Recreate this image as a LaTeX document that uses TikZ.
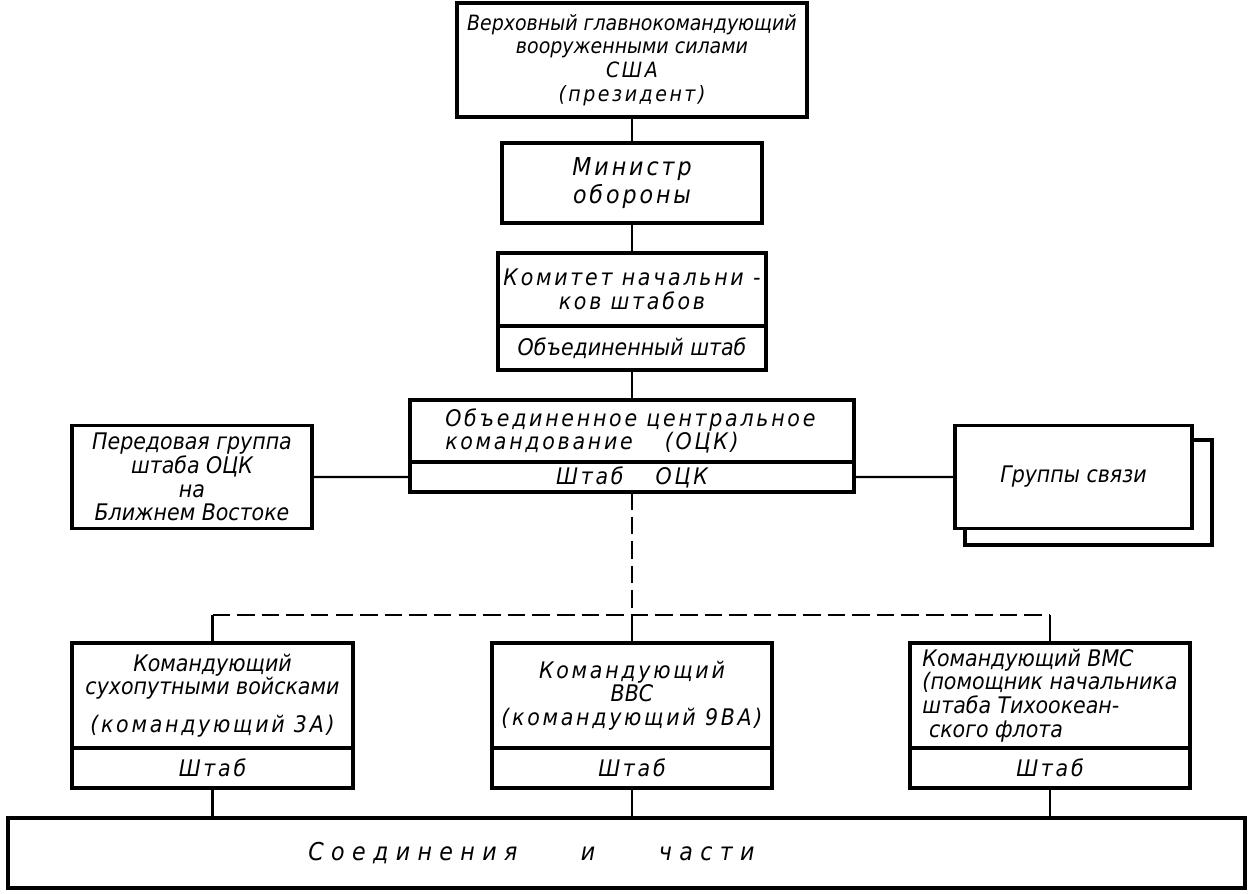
\documentclass[tikz,border=0pt]{standalone}
\usepackage{fontspec}
\setmainfont{DejaVu Sans Condensed}
\usetikzlibrary{positioning}
\newcommand\sprd[1]{{\addfontfeature{LetterSpace=12}#1}}

\begin{document}
\begin{tikzpicture}[thick]
    % Define block styles
    \tikzstyle{block} = [rectangle, draw, line width=1.8pt, outer sep=0pt, inner sep=1pt, align=center, font=\itshape\fontsize{13}{13.5}\selectfont]
    \tikzstyle{line} = [-, line width=1.3pt]
    \useasboundingbox (0,0) rectangle (25,-17.86);
    % Blocks and nodes
    \node [block, minimum width=7cm, minimum height=2.28cm, font=\itshape\fontsize{12}{13.5}\selectfont] (glav) at (12.64,-1.2)
        {Верховный главнокомандующий\\вооруженными силами\\\sprd{США}\\\sprd{(президент)}};
    \node [block, minimum width=5.2cm, minimum height=1.6cm, font=\itshape\fontsize{14}{15.5}\selectfont] (min) at (12.64,-3.66)
        {\sprd{Министр}\\\sprd{обороны}};
    \node [block, minimum width=5.36cm, minimum height=1.46cm] (kns) at (12.64,-5.79)
        {\sprd{Комитет начальни -}\\\sprd{ков штабов}};
    \node [block, minimum width=5.36cm, minimum height=0.88cm, below=0pt of kns] (knss) {Объединенный штаб};
    \node [block, minimum width=8.88cm, minimum height=1.24cm, align=left] (ock) at (12.64,-8.62)
        {\sprd{Объединенное центральное}\\\sprd{командование \quad (ОЦК)}\hspace*{1.6cm}};
    \node [block, minimum width=8.88cm, minimum height=0.6cm, below=0pt of ock] (ocks) {\sprd{Штаб \quad ОЦК}};
    \node [block, minimum width=4.8cm, minimum height=2.06cm] (pgr) at (3.84,-9.54)
        {Передовая группа\\штаба ОЦК\\на\\Ближнем Востоке};
    \node [block, minimum width=4.94cm, minimum height=2.1cm] (svyazb) at (21.77,-9.85) {};
    \node [block, fill=white, minimum width=4.74cm, minimum height=2.06cm] (svyaz) at (21.47,-9.54) {Группы связи};
    \node [block, minimum width=5.62cm, minimum height=2.1cm] (sv) at (4.25,-13.91)
        {Командующий\\сухопутными войсками\\[8pt]\sprd{(командующий 3А)}};
    \node [block, minimum width=5.62cm, minimum height=0.8cm, below=0pt of sv] (svs) {\sprd{Штаб}};
    \node [block, minimum width=5.6cm, minimum height=2.1cm] (vvs) at (12.64,-13.91)
        {\sprd{Командующий}\\ВВС\\\sprd{(командующий 9ВА)}};
    \node [block, minimum width=5.6cm, minimum height=0.8cm, below=0pt of vvs] (vvss) {\sprd{Штаб}};
    \node [block, minimum width=5.6cm, minimum height=2.1cm, align=left] (vms) at (21.0,-13.91)
        {Командующий ВМС\\(помощник начальника\\штаба Тихоокеан-\\\ ского флота};
    \node [block, minimum width=5.6cm, minimum height=0.8cm, below=0pt of vms] (vmss) {\sprd{Штаб}};
    \node [block, minimum width=24.74cm, minimum height=1.4cm, font=\itshape\fontsize{14}{15}\selectfont] (chasti) at (12.53,-17.06)
        {\addfontfeature{LetterSpace=30}Соединения \qquad и \qquad части\hspace*{3.8cm}};
    \coordinate (hub) at (12.64,-12.3);

    % Connections
    \draw[line] (glav) -- (min);
    \draw[line] (min) -- (kns);
    \draw[line] (knss) -- (ock);
    \draw[line] (pgr) -- (ocks);
    \draw[line] (ocks) -- (svyaz);
    \draw[line, dash pattern=on 10pt off 4pt] (ocks) -- (hub);
    \draw[line, dash pattern=on 10pt off 4pt] (sv.north |- hub) -- (vms.north |- hub);
    \draw[line] (sv.north |- hub) -- (sv);
    \draw[line] (hub) -- (vvs);
    \draw[line] (vms.north |- hub) -- (vms);
    \draw[line] (svs) -- (svs |- chasti.north);
    \draw[line] (vvss) -- (vvss |- chasti.north);
    \draw[line] (vmss) -- (vmss |- chasti.north);

  \end{tikzpicture}
\end{document}
